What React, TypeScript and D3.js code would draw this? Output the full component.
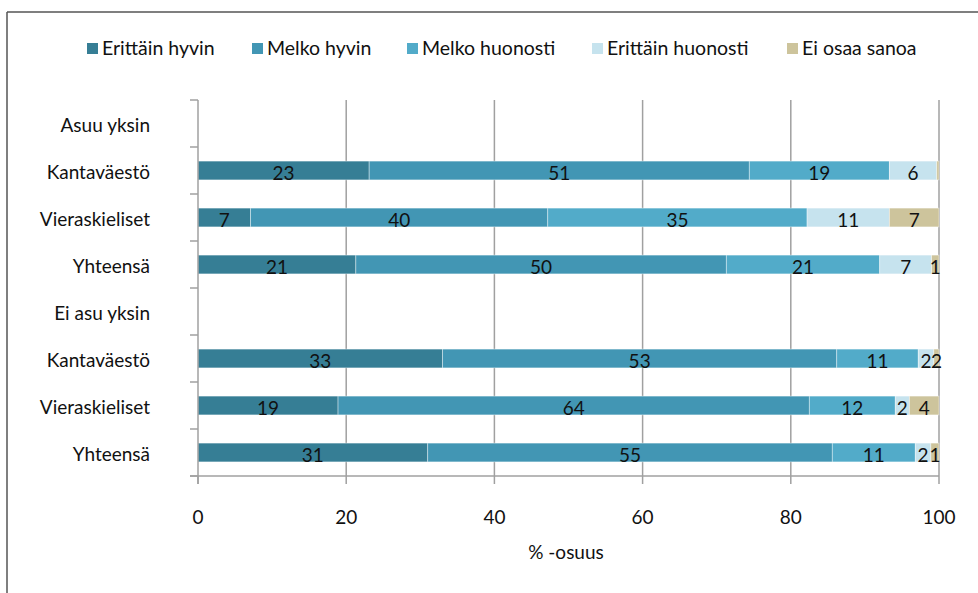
import * as d3 from 'd3';
import React, { useEffect } from 'react';

// kategoriat (otsikkorivit ilman palkkia)
const categories = [
  'Asuu yksin',
  'Kantaväestö',
  'Vieraskieliset',
  'Yhteensä',
  'Ei asu yksin',
  'Kantaväestö',
  'Vieraskieliset',
  'Yhteensä',
];
const headerRows = [0, 4];

const seriesNames = ['Erittäin hyvin', 'Melko hyvin', 'Melko huonosti', 'Erittäin huonosti', 'Ei osaa sanoa'];
const seriesColors = ['#367e95', '#4296b4', '#52abc9', '#c6e3ee', '#cdc49c'];

// osuudet riveittäin (% -osuus), null = otsikkorivi
const erittainHyvin = [null, 23.1, 7.1, 21.3, null, 33.0, 18.9, 31.0];
const melkoHyvin = [null, 51.3, 40.1, 50.0, null, 53.2, 63.6, 54.6];
const melkoHuonosti = [null, 18.9, 35.0, 20.7, null, 11.0, 11.6, 11.2];
const erittainHuonosti = [null, 6.4, 11.1, 7.0, null, 2.1, 1.9, 2.1];
const eiOsaaSanoa = [null, 0.3, 6.7, 1.0, null, 0.7, 4.0, 1.1];

// arvojen tekstit kuten kuvassa
const labels = [
  null,
  ['23', '51', '19', '6', ''],
  ['7', '40', '35', '11', '7'],
  ['21', '50', '21', '7', '1'],
  null,
  ['33', '53', '11', '2', '2'],
  ['19', '64', '12', '2', '4'],
  ['31', '55', '11', '2', '1'],
];

const xTicks = [0, 20, 40, 60, 80, 100];

const W = 978;
const H = 593;
const FONT = 'Lato, "DejaVu Sans", sans-serif';

export default function App() {
  useEffect(() => {
    document.body.style.margin = '0';
  }, []);

  const x = d3.scaleLinear().domain([0, 100]).range([198, 939]);
  const y = d3
    .scaleBand<number>()
    .domain(d3.range(categories.length))
    .range([100, 476])
    .paddingInner(0.6)
    .paddingOuter(0.3);
  const step = y.step();

  const series = [erittainHyvin, melkoHyvin, melkoHuonosti, erittainHuonosti, eiOsaaSanoa];

  const rows = categories.map((c, i) => {
    if (headerRows.includes(i)) return null;
    let acc = 0;
    return series.map((s, k) => {
      const v = s[i] as number;
      const seg = { x0: acc, x1: acc + v, k, label: labels[i]![k] };
      acc += v;
      return seg;
    });
  });

  const legendX = [87, 252, 407, 592, 787];

  return (
    <svg width={W} height={H} style={{ display: 'block', background: '#fff' }} fontFamily={FONT}>
      {/* kehys */}
      <line x1={7} y1={12} x2={W} y2={12} stroke="#555" strokeWidth={1.5} />
      <line x1={7} y1={12} x2={7} y2={H} stroke="#555" strokeWidth={1.5} />

      {/* legenda */}
      {seriesNames.map((n, k) => (
        <g key={n} transform={`translate(${legendX[k]},43)`}>
          <rect width={11} height={11} fill={seriesColors[k]} />
          <text x={15} y={12} fontSize={19.5} fill="#111">
            {n}
          </text>
        </g>
      ))}

      {/* pystyviivat */}
      {xTicks.slice(1).map((t) => (
        <line key={t} x1={x(t)} x2={x(t)} y1={100} y2={476} stroke="#a0a0a0" strokeWidth={1.5} />
      ))}

      {/* palkit */}
      {rows.map((segs, i) =>
        segs ? (
          <g key={i}>
            {segs.map((s) => (
              <rect
                key={s.k}
                x={x(s.x0)}
                y={y(i)}
                width={x(s.x1) - x(s.x0)}
                height={y.bandwidth()}
                fill={seriesColors[s.k]}
                stroke="#fff"
                strokeOpacity={0.5}
                strokeWidth={0.8}
              />
            ))}
            {segs.map((s) =>
              s.label ? (
                <text
                  key={'t' + s.k}
                  x={(x(s.x0) + x(s.x1)) / 2}
                  y={(y(i) as number) + y.bandwidth() / 2 + 9}
                  textAnchor="middle"
                  fontSize={19}
                  fill="#111"
                >
                  {s.label}
                </text>
              ) : null,
            )}
          </g>
        ) : null,
      )}

      {/* y-akseli */}
      <line x1={198} x2={198} y1={100} y2={484} stroke="#a0a0a0" strokeWidth={1.5} />
      {d3.range(categories.length + 1).map((i) => (
        <line key={i} x1={190} x2={198} y1={100 + i * step} y2={100 + i * step} stroke="#a0a0a0" strokeWidth={1.5} />
      ))}
      {categories.map((c, i) => (
        <text
          key={i}
          x={150}
          y={(y(i) as number) + y.bandwidth() / 2 + 8}
          textAnchor="end"
          fontSize={19}
          fill="#111"
        >
          {c}
        </text>
      ))}

      {/* x-akseli */}
      <line x1={190} x2={x(100)} y1={476} y2={476} stroke="#a0a0a0" strokeWidth={1.5} />
      {xTicks.map((t) => (
        <g key={t}>
          <line x1={x(t)} x2={x(t)} y1={476} y2={484} stroke="#a0a0a0" strokeWidth={1.5} />
          <text x={x(t)} y={524} textAnchor="middle" fontSize={19} fill="#111">
            {t}
          </text>
        </g>
      ))}
      <text x={566} y={559} textAnchor="middle" fontSize={19} fill="#111">
        % -osuus
      </text>
    </svg>
  );
}
